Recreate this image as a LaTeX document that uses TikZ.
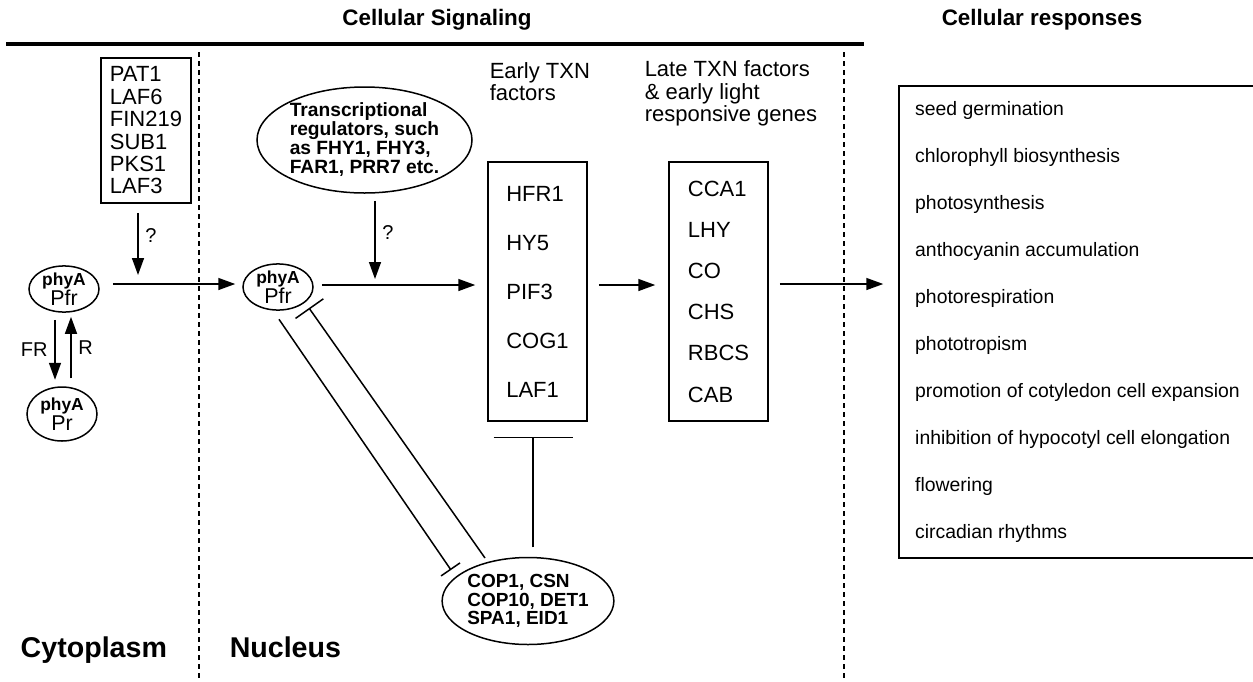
\documentclass[tikz,border=0pt]{standalone}
\usepackage{fontspec}
\setmainfont{Liberation Sans}
\usetikzlibrary{calc,shapes.geometric,arrows.meta}
\def\genebox{\node[draw,align=left,inner sep=0pt,minimum width=49.5pt,minimum height=129.5pt]}
\def\ovalnode{\node[ellipse,draw,inner sep=0pt,align=left]}
\def\phynode{\node[ellipse,draw,inner sep=0pt,align=center,minimum width=35pt,font=\fontsize{10.7}{10}\selectfont]}
\def\actarrow{\draw[-{Triangle[length=8.5pt,width=6pt]}]}
\def\phyA{{\fontsize{8.7}{8.7}\selectfont\bfseries phyA}}
\tikzset{blockbar/.style={-{Bar[width=#1]}}}

\begin{document}
\begin{tikzpicture}[x=0.5pt,y=-0.5pt,line width=0.75pt]
\useasboundingbox (0,0) rectangle (1253,681);
\node[font=\fontsize{11.2}{12}\selectfont\bfseries] (signal) at (437,20) {Cellular Signaling};
\node[font=\fontsize{11.2}{12}\selectfont\bfseries] (response) at (1042,20) {Cellular responses};
\draw[line width=1.6pt] (6,44) -- (864,44);
\draw[dash pattern=on 2.5pt off 2pt] (199,52) -- (199,681);
\draw[dash pattern=on 2.5pt off 2pt] (844,52) -- (844,681);
\node[font=\fontsize{14.3}{15}\selectfont\bfseries,anchor=base west,inner sep=0pt] (cyto) at (20,657) {Cytoplasm};
\node[font=\fontsize{14.3}{15}\selectfont\bfseries,anchor=base west,inner sep=0pt] (nucl) at (229,657) {Nucleus};

\node[draw,align=left,inner sep=0pt,minimum width=45pt,minimum height=72.5pt,font=\fontsize{11}{11.2}\selectfont] (pat) at (146,130.5)
  {PAT1\\LAF6\\FIN219\\SUB1\\PKS1\\LAF3};
\phynode[minimum height=22pt] (pfrc) at (64,289) {\phyA\\Pfr};
\phynode[minimum height=27pt] (pr) at (62,414) {\phyA\\Pr};
\phynode[minimum height=22.5pt] (pfrn) at (278,287) {\phyA\\Pfr};
\ovalnode[minimum width=107.5pt,minimum height=53pt,font=\fontsize{9.6}{9.5}\selectfont\bfseries] (trans) at (364.5,140)
  {Transcriptional\\regulators, such\\as FHY1, FHY3,\\FAR1, PRR7 etc.};
\ovalnode[minimum width=85pt,minimum height=43.5pt,font=\fontsize{9.5}{9.25}\selectfont\bfseries] (cop) at (528,601)
  {COP1, CSN\\COP10, DET1\\SPA1, EID1};

\node[anchor=west,align=left,inner sep=0pt,font=\fontsize{11}{11}\selectfont] (earlylab) at (489,82) {Early TXN\\factors};
\node[anchor=west,align=left,inner sep=0pt,font=\fontsize{11}{11.25}\selectfont] (latelab) at (644,93.5)
  {Late TXN factors\\\& early light\\responsive genes};
\genebox[font=\fontsize{11}{24.5}\selectfont] (early) at (537.5,291.5) {HFR1\\HY5\\PIF3\\COG1\\LAF1};
\genebox[font=\fontsize{11}{20.6}\selectfont] (late) at (718.5,291.5) {CCA1\\LHY\\CO\\CHS\\RBCS\\CAB};
\node[draw,align=left,inner sep=0pt,minimum width=178.5pt,minimum height=236pt,font=\fontsize{9.7}{23.45}\selectfont] (resp) at (1077.5,322)
  {seed germination\\chlorophyll biosynthesis\\photosynthesis\\anthocyanin accumulation\\photorespiration\\phototropism\\promotion of cotyledon cell expansion\\inhibition of hypocotyl cell elongation\\flowering\\circadian rhythms};

\coordinate (q1) at (138,275);
\coordinate (q2) at (375,279);
\actarrow ([shift={(-8,9)}]pat.south) -- node[right,pos=0.37,font=\fontsize{10}{10}\selectfont] {?} (q1);
\actarrow ([shift={(10.5,7)}]trans.south) -- node[right,pos=0.4,font=\fontsize{10}{10}\selectfont] {?} (q2);
\actarrow ($(pfrc.east)+(13,-5)$) -- ($(pfrc.east -| pfrn.west)+(-7,-5)$);
\actarrow ($(pfrc.south)+(-9,7)$) -- node[left,font=\fontsize{10}{10}\selectfont] {FR} ($(pr.north)+(-7,-6.5)$);
\actarrow ($(pr.north)+(9,-8)$) -- node[right,font=\fontsize{10}{10}\selectfont] {R} ($(pfrc.south)+(7,4)$);
\actarrow ($(pfrn.east)+(8,-2)$) -- ($(pfrn.east -| early.west)+(-12,-2)$);
\actarrow ($(early.east)+(11,-6.5)$) -- ($(early.east -| late.west)+(-13,-6.5)$);
\actarrow ($(late.east)+(11,-7.5)$) -- ($(late.east -| resp.west)+(-15,-7.5)$);
\draw[blockbar=11.5pt] ($(pfrn.south)+(1,8.5)$) -- ($(cop.center)+(-77,-31)$);
\draw[blockbar=17pt] ($(cop.center)+(-43,-43)$) -- ($(pfrn.center)+(31,21)$);
\draw[blockbar=39.5pt] ($(cop.north)+(5,-9.5)$) -- ($(early.south)+(-4.5,15)$);
\end{tikzpicture}
\end{document}
